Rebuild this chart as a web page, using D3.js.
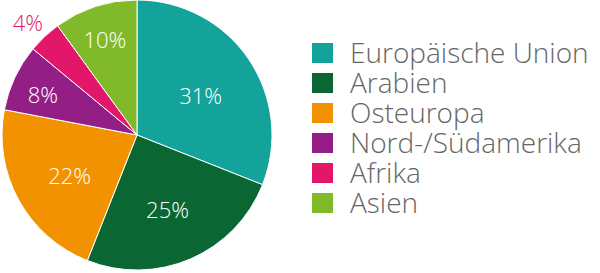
<!DOCTYPE html>
<html>
<head>
<meta charset="utf-8">
<script src="https://cdn.jsdelivr.net/npm/d3@7"></script>
<style>
  html, body { margin: 0; padding: 0; background: #fff; }
  svg { display: block; font-family: "Open Sans", sans-serif; }
</style>
</head>
<body>
<svg id="chart" width="600" height="273"></svg>
<script>
const categories = ["Europäische Union", "Arabien", "Osteuropa", "Nord-/Südamerika", "Afrika", "Asien"];
const shares = [31, 25, 22, 8, 4, 10];
const colors = ["#14a39a", "#0a6734", "#f39200", "#931f86", "#e3176a", "#80ba2b"];

const svg = d3.select("#chart");
const R = 135;
const cx = 137, cy = 135;

const pie = d3.pie().sort(null).value((d) => d.value);
const arcs = pie(categories.map((c, i) => ({ name: c, value: shares[i], color: colors[i] })));

const arc = d3.arc().innerRadius(0).outerRadius(R);

const g = svg.append("g").attr("transform", "translate(" + cx + "," + cy + ")");

g.selectAll("path")
  .data(arcs)
  .enter()
  .append("path")
  .attr("d", arc)
  .attr("fill", (d) => d.data.color)
  .attr("stroke", "#fff")
  .attr("stroke-width", 1);

// label radius depends on slice size: big slices closer in, tiny one outside
const labelRadius = (d) => (d.data.value < 5 ? R * 1.18 : d.data.value < 15 ? R * 0.77 : R * 0.57);

g.selectAll("text")
  .data(arcs)
  .enter()
  .append("text")
  .attr("transform", (d) => {
    const a = (d.startAngle + d.endAngle) / 2;
    const r = labelRadius(d);
    return "translate(" + r * Math.sin(a) + "," + -r * Math.cos(a) + ")";
  })
  .attr("text-anchor", "middle")
  .attr("dy", "0.55em")
  .attr("font-size", 22)
  .attr("font-weight", 300)
  .attr("fill", (d) => (d.data.value < 5 ? d.data.color : "#fff"))
  .text((d) => d.data.value + "%");

// legend
const legend = svg.append("g").attr("transform", "translate(312,43)");
const item = legend.selectAll("g")
  .data(arcs)
  .enter()
  .append("g")
  .attr("transform", (d, i) => "translate(0," + i * 30 + ")");

item.append("rect")
  .attr("width", 21)
  .attr("height", 20)
  .attr("fill", (d) => d.data.color);

item.append("text")
  .attr("x", 38)
  .attr("y", 20)
  .attr("font-size", 28)
  .attr("font-weight", 300)
  .attr("fill", "#666")
  .text((d) => d.data.name);
</script>
</body>
</html>
